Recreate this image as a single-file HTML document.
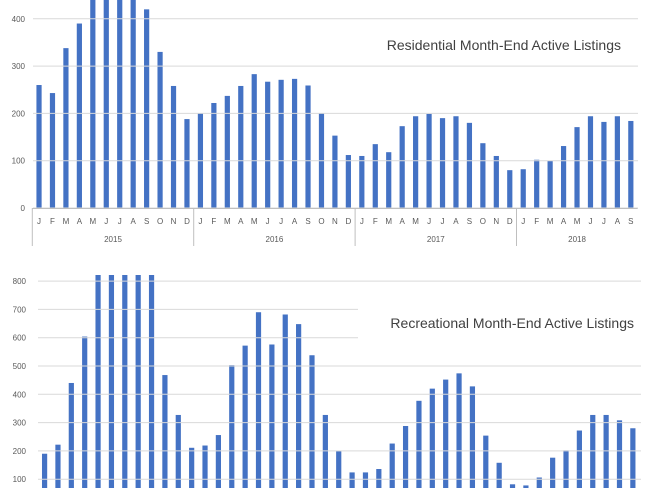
<!DOCTYPE html>
<html><head><meta charset="utf-8"><style>
html,body{margin:0;padding:0;background:#fff;}
svg{display:block;font-family:"Liberation Sans",sans-serif;}
</style></head><body>
<svg id="c" width="650" height="488" viewBox="0 0 650 488"></svg>
<script>
const months=["J","F","M","A","M","J","J","A","S","O","N","D"];
const years=["2015","2016","2017","2018"];
const residential=[260,243,338,390,460,460,460,460,420,330,258,188,
 200,222,237,258,283,267,271,273,259,200,153,112,
 110,135,118,173,194,199,190,194,180,137,110,80,
 82,102,100,131,171,194,182,194,184];
const recreational=[190,222,440,604,840,840,840,840,840,468,327,211,
 219,256,503,572,690,576,682,648,538,327,199,124,
 124,136,226,288,377,420,452,474,428,254,158,82,
 78,106,176,202,272,327,327,308,280];
const resTicks=[0,100,200,300,400];
const recTicks=[100,200,300,400,500,600,700,800];
const NS="http://www.w3.org/2000/svg";
const svgEl=document.getElementById('c');
function mk(t,a,p){const e=document.createElementNS(NS,t);for(const k in a)e.setAttribute(k,a[k]);(p||svgEl).appendChild(e);return e;}

function chart(o){
  const g=mk('g',{'clip-path':'url(#'+o.clip+')'});
  
  
  const yf=v=>o.y0-(v/100)*o.pxPer100;
  const xf=i=>o.x0+(i+0.5)*o.step;
  o.ticks.forEach(t=>{
    const l=mk('line',{x1:o.gx0,x2:o.gx1,y1:yf(t),y2:yf(t),stroke:'#d9d9d9','stroke-width':1});
    
    
    const tx=mk('text',{x:o.lx,y:yf(t)+3,'text-anchor':'end','font-size':8,fill:'#595959'});
    tx.textContent=t;
    
    
  });
  const bx=mk('rect',{x:o.tb[0],y:o.tb[1],width:o.tb[2],height:o.tb[3],fill:'#fff'});
  
  
  const tt=mk('text',{x:o.tx,y:o.ty,'text-anchor':'end','font-size':14,fill:'#404040'});
  tt.textContent=o.title;
  
  
  o.data.forEach((v,i)=>{
    const barTop=Math.max(yf(v),o.topClip);
    const r=mk('rect',{x:xf(i)-2.6,y:barTop,width:5.2,height:o.y0-barTop,fill:'#4472C4'},g);
    
    
  });
  return {xf,yf};
}
const defs=mk('defs',{});
const c1=mk('clipPath',{id:'cl1'},defs);mk('rect',{x:0,y:0,width:650,height:210},c1);
const c2=mk('clipPath',{id:'cl2'},defs);mk('rect',{x:0,y:250,width:650,height:238},c2);

const resChart=chart({name:'residential-bars',clip:'cl1',data:residential,ticks:resTicks,y0:208,pxPer100:47.3,
 x0:32.3,step:13.45,gx0:33,gx1:638,lx:25,topClip:0,
 title:'Residential Month-End Active Listings',tx:621,ty:50,tb:[355,25,285,38]});
const recChart=chart({name:'recreational-bars',clip:'cl2',data:recreational,ticks:recTicks,y0:507.5,pxPer100:28.3,
 x0:37.9,step:13.37,gx0:38,gx1:641,lx:26,topClip:275,
 title:'Recreational Month-End Active Listings',tx:634,ty:328,tb:[358,300,283,46]});

const ax=mk('g',{});


mk('line',{x1:32.3,x2:637.6,y1:208.5,y2:208.5,stroke:'#bfbfbf'},ax);
residential.forEach((v,i)=>{
  const t=mk('text',{x:resChart.xf(i),y:224,'text-anchor':'middle','font-size':8,fill:'#595959'},ax);
  t.textContent=months[i%12];
  
  
});
years.forEach((yr,k)=>{
  const s=k*12, e=Math.min(s+12,residential.length);
  const xs=32.3+s*13.45, xe=32.3+e*13.45;
  mk('line',{x1:xs,x2:xs,y1:208,y2:246,stroke:'#bfbfbf'},ax);
  const t=mk('text',{x:(xs+xe)/2,y:242,'text-anchor':'middle','font-size':8,fill:'#595959'},ax);
  t.textContent=yr;
  
  
});
</script>
</body></html>
